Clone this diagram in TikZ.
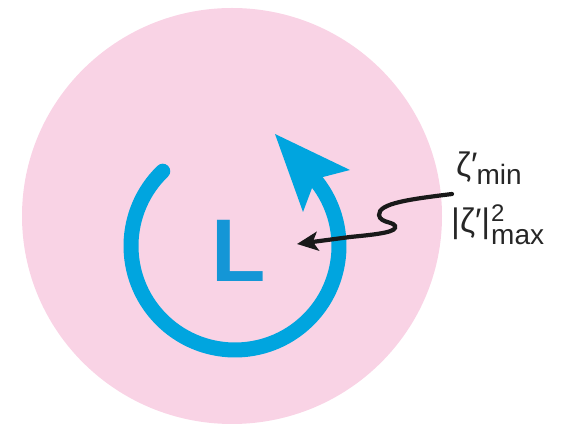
\documentclass[tikz,border=0pt]{standalone}
\usepackage{fontspec}
\setmainfont{Liberation Sans}
\usetikzlibrary{arrows.meta}
\definecolor{pinkbg}{RGB}{249,211,229}
\definecolor{arcblue}{RGB}{0,165,223}
\definecolor{lblue}{RGB}{20,150,214}
\tikzset{
  mainlbl/.style={anchor=base west, inner sep=0pt, text=black!85},
  ringline/.style={draw=arcblue, line width=15pt},
  pointer/.style={draw=black!90, line width=4.2pt, line cap=round, -{Stealth[length=21pt,width=19pt,inset=5pt]}}
}
\newcommand{\mainsz}{\fontsize{34}{34}\selectfont}
\newcommand{\scrsz}{\fontsize{28}{28}\selectfont}
\begin{document}
\begin{tikzpicture}[x=1pt,y=1pt]
\useasboundingbox (0,0) rectangle (562,428);
% pink disc
\fill[pinkbg] (232,212) ellipse [x radius=210, y radius=208];
% blue circulation arrow
\coordinate (c) at (235,182);
\draw[ringline, line cap=round] ([shift={(134:104)}]c) arc [start angle=134, end angle=398, radius=104];
\fill[arcblue] (275,294) -- (350,258) -- (323,251) -- (312,240) -- (303,216) -- cycle;
% L
\node[anchor=base west, inner sep=0pt, text=lblue] (L) at (211.5,146) {\fontsize{89}{89}\selectfont\bfseries L};
% labels
\node[mainlbl] (zmin) at (456,251) {\mainsz ζ′\kern-1pt\raisebox{-8pt}{\scrsz min}};
\node[mainlbl] (zmax) at (451,195) {\mainsz |ζ′|\kern1pt\makebox[0pt][l]{\raisebox{11pt}{\fontsize{24}{24}\selectfont 2}}\raisebox{-12pt}{\scrsz max}};
% pointer
\coordinate (wstart) at (452,234);
\coordinate (target) at (297,184);
\draw[pointer] (wstart) .. controls (412,229) and (378,225) .. (379,213)
  .. controls (380,204) and (397,207) .. (395,200)
  .. controls (393,195) and (370,193) .. (350,191) -- (target);
\end{tikzpicture}
\end{document}
